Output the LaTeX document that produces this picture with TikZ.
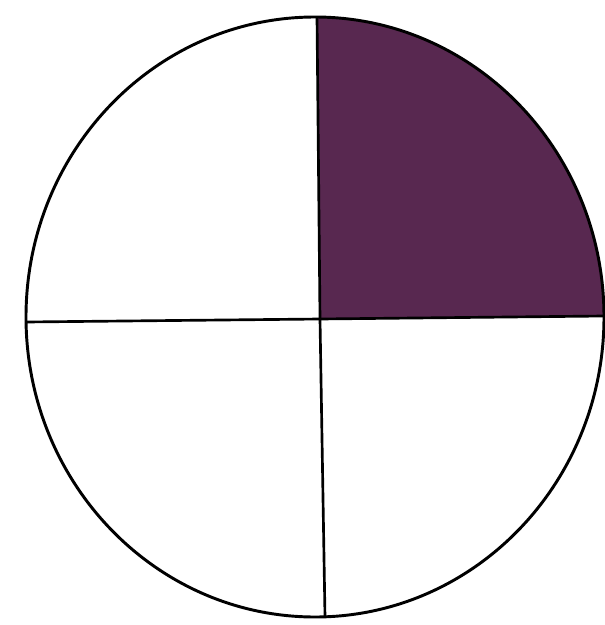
\documentclass[tikz,border=0pt]{standalone}
\begin{document}
\begin{tikzpicture}[x=0.75pt,y=-0.75pt,
  outline/.style={draw=black,line width=2.2pt},
  divider/.style={draw=black,line width=2pt}]
\useasboundingbox (0,0) rectangle (604,625);
\fill[white] (0,0) rectangle (604,625);
\coordinate (c) at (320,319);
\coordinate (top) at (317,17);
\coordinate (bot) at (325,617);
\coordinate (lft) at (26,322);
\coordinate (rgt) at (604,316);
\begin{scope}
  \clip (315,317) ellipse [x radius=289, y radius=300];
  \fill[fill={rgb,255:red,88;green,40;blue,80}] (c) -- (top) -- (317,0) -- (620,0) -- (620,316) -- (rgt) -- cycle;
\end{scope}
\draw[outline] (315,317) ellipse [x radius=289, y radius=300];
\draw[divider] (top) -- (c) -- (bot);
\draw[divider] (lft) -- (c) -- (rgt);
\end{tikzpicture}
\end{document}
